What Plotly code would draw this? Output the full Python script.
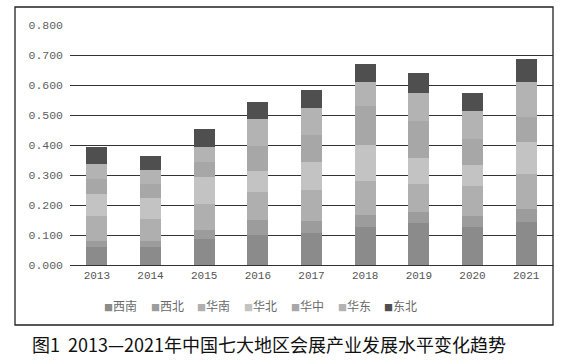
import plotly.graph_objects as go

years = ["2013", "2014", "2015", "2016", "2017", "2018", "2019", "2020", "2021"]
regions = ["西南", "西北", "华南", "华北", "华中", "华东", "东北"]

xinan   = [0.061, 0.061, 0.087, 0.101, 0.106, 0.126, 0.139, 0.126, 0.144]
xibei   = [0.020, 0.020, 0.030, 0.050, 0.041, 0.042, 0.037, 0.036, 0.042]
huanan  = [0.083, 0.072, 0.087, 0.094, 0.103, 0.111, 0.094, 0.103, 0.117]
huabei  = [0.072, 0.072, 0.089, 0.069, 0.094, 0.122, 0.087, 0.067, 0.106]
huazhong = [0.050, 0.044, 0.052, 0.083, 0.090, 0.130, 0.122, 0.089, 0.083]
huadong = [0.050, 0.048, 0.050, 0.089, 0.090, 0.080, 0.093, 0.092, 0.119]
dongbei = [0.056, 0.047, 0.058, 0.056, 0.059, 0.059, 0.067, 0.061, 0.076]

series = [xinan, xibei, huanan, huabei, huazhong, huadong, dongbei]
colors = ["#8b8b8b", "#9c9c9c", "#afafaf", "#c3c3c3", "#a7a7a7", "#b3b3b3", "#4f4f4f"]

title_text = "图1  2013—2021年中国七大地区会展产业发展水平变化趋势"

fig = go.Figure()
for name, vals, col in zip(regions, series, colors):
    fig.add_trace(go.Bar(x=years, y=vals, name=name, marker=dict(color=col, line=dict(width=0)),
                         showlegend=False))

# plot area: x 70..553, y 25..265 (px)
L, R, T, B = 70, 553, 25, 265
W = R - L
H = B - T

def px_x(p):
    return (p - L) / W

def px_y(p):
    return (B - p) / H

annotations = []
# legend built from region names and colours
leg_x0 = 102
leg_step = 46.7
for i, (name, col) in enumerate(zip(regions, colors)):
    annotations.append(dict(
        xref="paper", yref="paper", x=px_x(leg_x0 + i * leg_step), y=px_y(305),
        xanchor="left", yanchor="middle", showarrow=False,
        text=f"<span style='color:{col};font-size:9px'>■</span>{name}",
        font=dict(family="Noto Sans CJK SC", size=12, color="#6a6a6a"),
    ))
annotations.append(dict(
    xref="paper", yref="paper", x=px_x(30), y=px_y(344), xanchor="left", yanchor="middle",
    showarrow=False, text=title_text,
    font=dict(family="Noto Sans CJK SC", size=18, color="#111111"),
))

fig.update_layout(
    width=562, height=361,
    margin=dict(l=L, r=562 - R, t=T, b=361 - B),
    paper_bgcolor="white", plot_bgcolor="white",
    barmode="stack", bargap=0.61,
    annotations=annotations,
    shapes=[dict(type="rect", xref="paper", yref="paper",
                 x0=px_x(15), x1=px_x(553), y0=px_y(325), y1=px_y(7),
                 line=dict(color="#222222", width=1.3), fillcolor="rgba(0,0,0,0)", layer="above")],
    xaxis=dict(showgrid=False, showline=True, linecolor="#333333", linewidth=1,
               ticks="", tickfont=dict(family="Liberation Mono", size=11, color="#555555")),
    yaxis=dict(range=[0, 0.8], dtick=0.1, tick0=0, tickformat=".3f", showgrid=True,
               gridcolor="#333333", gridwidth=1, zeroline=False, showline=False, ticks="",
               ticklabelstandoff=6,
               tickfont=dict(family="Liberation Mono", size=11.5, color="#606060")),
)

fig.write_html("out.html", config={"displayModeBar": False},
               post_script="document.body.style.margin='0';document.body.style.overflow='hidden';")
